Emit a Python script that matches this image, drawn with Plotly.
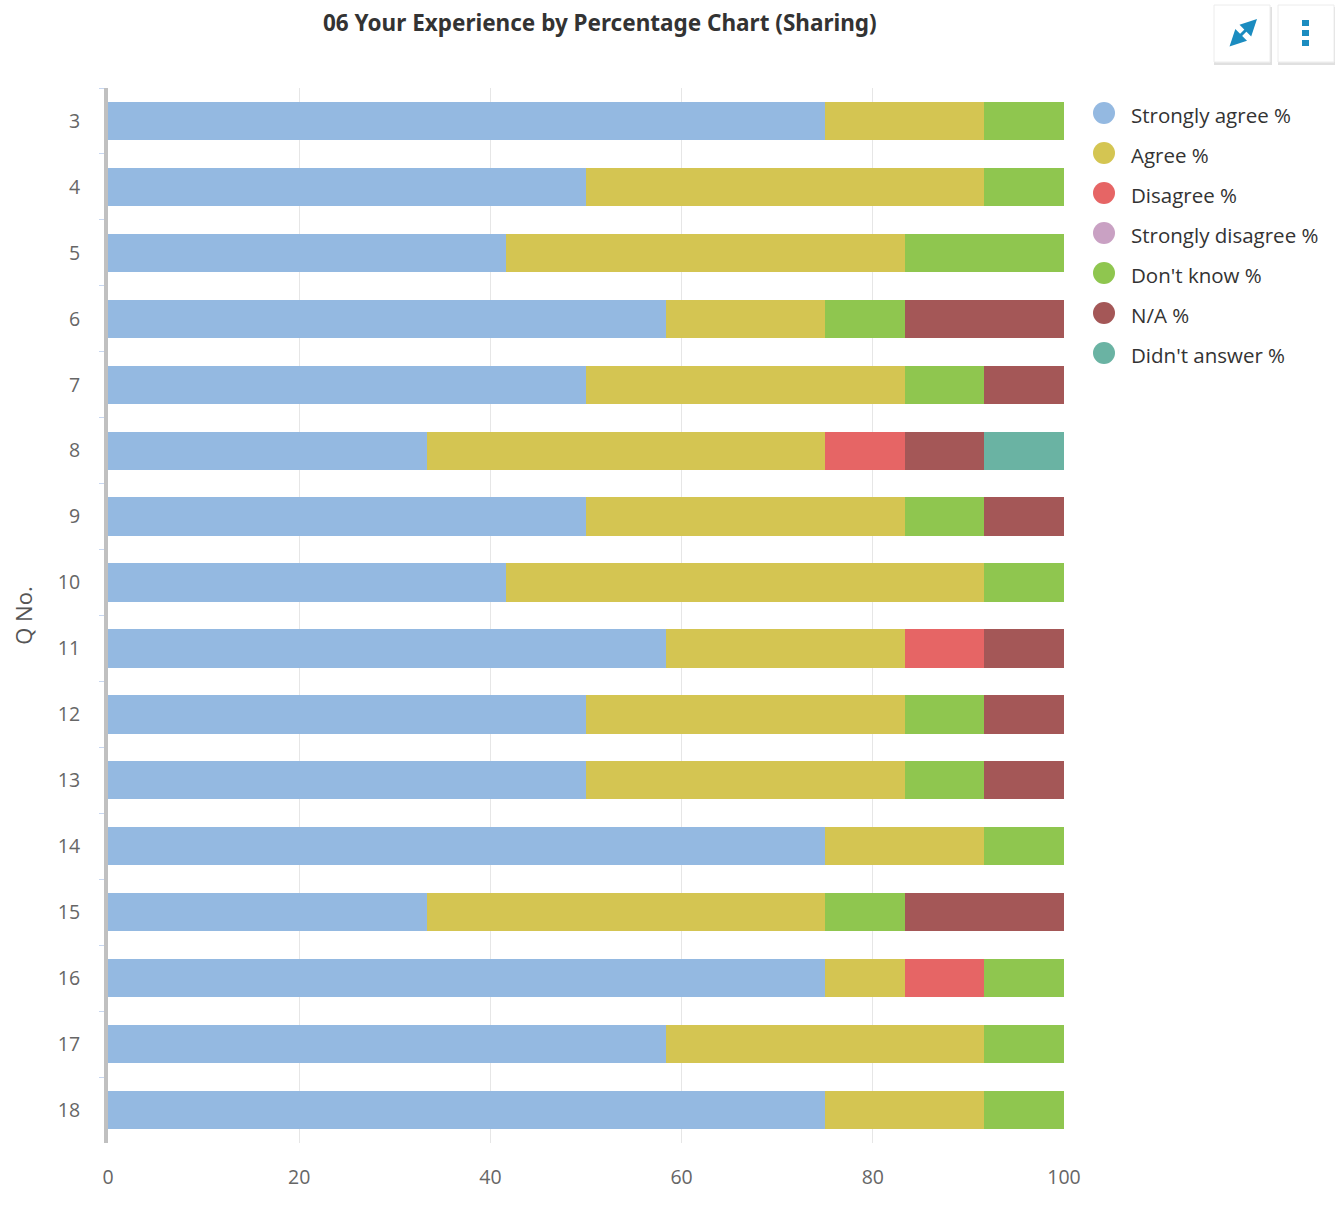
import plotly.graph_objects as go

W, H = 1335, 1208
L, R, T, B = 108, 1064, 88, 1143

questions = ["3", "4", "5", "6", "7", "8", "9", "10", "11", "12", "13", "14", "15", "16", "17", "18"]

strongly_agree = [75, 50, 41.67, 58.33, 50, 33.33, 50, 41.67, 58.33, 50, 50, 75, 33.33, 75, 58.33, 75]
agree =          [16.67, 41.67, 41.67, 16.67, 33.33, 41.67, 33.33, 50, 25, 33.33, 33.33, 16.67, 41.67, 8.33, 33.33, 16.67]
disagree =       [0, 0, 0, 0, 0, 8.33, 0, 0, 8.33, 0, 0, 0, 0, 8.33, 0, 0]
strongly_dis =   [0, 0, 0, 0, 0, 0, 0, 0, 0, 0, 0, 0, 0, 0, 0, 0]
dont_know =      [8.33, 8.33, 16.67, 8.33, 8.33, 0, 8.33, 8.33, 0, 8.33, 8.33, 8.33, 8.33, 8.33, 8.33, 8.33]
na =             [0, 0, 0, 16.67, 8.33, 8.33, 8.33, 0, 8.33, 8.33, 8.33, 0, 16.67, 0, 0, 0]
didnt_answer =   [0, 0, 0, 0, 0, 8.33, 0, 0, 0, 0, 0, 0, 0, 0, 0, 0]

series_names = ["Strongly agree %", "Agree %", "Disagree %", "Strongly disagree %",
                "Don't know %", "N/A %", "Didn't answer %"]
series_values = [strongly_agree, agree, disagree, strongly_dis, dont_know, na, didnt_answer]
colors = ["#94b9e1", "#d4c552", "#e66565", "#c9a1c3", "#8fc64f", "#a45757", "#6ab3a3"]

x_ticks = [0, 20, 40, 60, 80, 100]


def px(x):
    return (x - L) / (R - L)


def py(y):
    return (B - y) / (B - T)


FONT = "Open Sans"
fig = go.Figure()

for name, vals, col in zip(series_names, series_values, colors):
    fig.add_trace(go.Bar(
        y=questions, x=vals, orientation="h", name=name,
        marker=dict(color=col, line=dict(width=0)),
        showlegend=False, hovertemplate="%{y}: %{x}<extra>" + name + "</extra>",
    ))

fig.update_layout(
    width=W, height=H,
    margin=dict(l=L, r=W - R, t=T, b=H - B, pad=0),
    barmode="stack", bargap=0.42,
    paper_bgcolor="white", plot_bgcolor="white",
    font=dict(family=FONT, color="#666666", size=19),
    showlegend=False,
    xaxis=dict(
        range=[0, 100], tickvals=x_ticks, ticks="", showgrid=True,
        gridcolor="#e6e6e6", gridwidth=1, zeroline=False, showline=False,
        ticklabelstandoff=20,
        tickfont=dict(size=19.5, color="#666666"), fixedrange=True,
    ),
    yaxis=dict(
        type="category", autorange="reversed", categoryorder="array", categoryarray=questions,
        showline=True, linecolor="#c0c0c0", linewidth=4,
        ticks="outside", tickson="boundaries", ticklen=5, tickcolor="#c8d7f0", tickwidth=1,
        ticklabelstandoff=20, showgrid=False,
        tickfont=dict(size=19.5, color="#666666"),
        title=dict(text="Q No.", font=dict(size=22, color="#555555"), standoff=20),
        fixedrange=True,
    ),
)

# legend (circle markers)
legend_y0, legend_dy = 113, 40
for i, (name, col) in enumerate(zip(series_names, colors)):
    yc = legend_y0 + i * legend_dy
    fig.add_shape(type="circle", xref="paper", yref="paper",
                  x0=px(1093), x1=px(1115), y0=py(yc + 11), y1=py(yc - 11),
                  line=dict(width=0), fillcolor=col, layer="above")
    fig.add_annotation(text=name, xref="paper", yref="paper",
                       x=px(1129), y=py(yc + 2), xanchor="left", yanchor="middle",
                       showarrow=False, font=dict(size=20.5, color="#333333", family=FONT))

fig.add_annotation(
    text="<b>06 Your Experience by Percentage Chart (Sharing)</b>",
    xref="paper", yref="paper", x=px(600), y=py(22), xanchor="center", yanchor="middle",
    showarrow=False, font=dict(size=22.5, color="#333333", family="Noto Sans"),
)

# toolbar buttons
for x0, x1 in [(1214, 1270), (1278, 1334)]:
    fig.add_shape(type="rect", xref="paper", yref="paper",
                  x0=px(x0 + 1), x1=px(x1 + 1), y0=py(64), y1=py(8),
                  line=dict(color="#e0e0e0", width=2), fillcolor="#e8e8e8", layer="above")
    fig.add_shape(type="rect", xref="paper", yref="paper",
                  x0=px(x0), x1=px(x1), y0=py(62), y1=py(5),
                  line=dict(color="#ececec", width=1), fillcolor="white", layer="above")

fig.add_annotation(xref="paper", yref="paper", x=px(1257), y=py(19), ax=-29, ay=29,
                   showarrow=True, arrowhead=2, arrowside="end+start", arrowsize=1.1,
                   arrowwidth=3, arrowcolor="#1b8cc0", text="")
for yy in [20, 30, 40]:
    fig.add_shape(type="rect", xref="paper", yref="paper",
                  x0=px(1302), x1=px(1309), y0=py(yy + 6), y1=py(yy),
                  line=dict(width=0), fillcolor="#1b8cc0", layer="above")

fig.write_html("out.html", config={"displayModeBar": False},
               post_script="document.body.style.margin='0';")
